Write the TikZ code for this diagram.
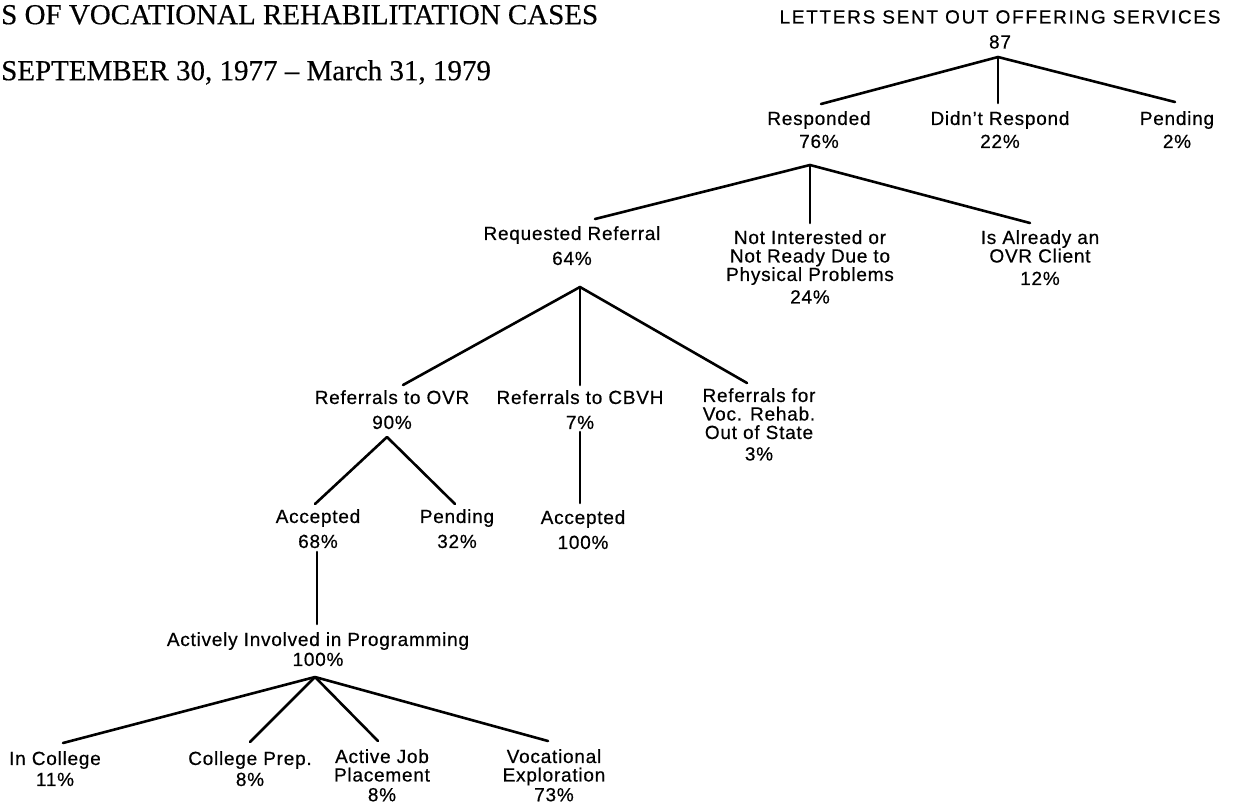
\documentclass[tikz,border=0pt]{standalone}
\usepackage{fontspec}
\setmainfont{Liberation Sans}[LetterSpace=4, FakeBold=0.5]
\newfontfamily\rootfont{Liberation Sans}[LetterSpace=9, FakeBold=0.5]
\newfontfamily\titlefont{Liberation Serif}[FakeBold=0.4]
\begin{document}
\begin{tikzpicture}[x=1pt,y=-1pt,
  lab/.style={align=center, inner sep=0pt, anchor=north, font=\fontsize{19}{18.5}\selectfont},
  link/.style={line width=2.6pt, line cap=round, line join=round}]
\useasboundingbox (0,0) rectangle (1235,807);
% title
\node[anchor=north west, inner sep=0pt, align=left, font=\titlefont\fontsize{29}{56}\selectfont] (title) at (1,4.8)
  {S OF VOCATIONAL REHABILITATION CASES\\SEPTEMBER 30, 1977 \textendash{} March 31, 1979};
% nodes
\node[lab] (root) at (1000,10) {{\rootfont LETTERS SENT OUT OFFERING SERVICES}\\[6.5pt]87};
\node[lab] (resp) at (819,111) {Responded\\[4.5pt]76\%};
\node[lab] (didnt) at (1000,111) {Didn't Respond\\[4.5pt]22\%};
\node[lab] (pend) at (1177,111) {Pending\\[4.5pt]2\%};
\node[lab] (req) at (572,226) {Requested Referral\\[6.5pt]64\%};
\node[lab] (notint) at (810,230) {Not Interested or\\Not Ready Due to\\Physical Problems\\[4pt]24\%};
\node[lab] (isalr) at (1040,230) {Is Already an\\OVR Client\\[4pt]12\%};
\node[lab] (ovr) at (392,390) {Referrals to OVR\\[6.5pt]90\%};
\node[lab] (cbvh) at (580,390) {Referrals to CBVH\\[6.5pt]7\%};
\node[lab] (voc) at (759,388) {Referrals for\\Voc. Rehab.\\Out of State\\[3pt]3\%};
\node[lab] (acc1) at (318,509) {Accepted\\[6.5pt]68\%};
\node[lab] (pend2) at (457,509) {Pending\\[6.5pt]32\%};
\node[lab] (acc2) at (583,510) {Accepted\\[6.5pt]100\%};
\node[lab] (active) at (318,632) {Actively Involved in Programming\\[1.5pt]100\%};
\node[lab] (incol) at (55,751) {In College\\[2.5pt]11\%};
\node[lab] (prep) at (250,751) {College Prep.\\[2.5pt]8\%};
\node[lab] (ajob) at (382,749) {Active Job\\Placement\\[1.3pt]8\%};
\node[lab] (vocex) at (554,749) {Vocational\\Exploration\\[1.3pt]73\%};
% junctions and ends
\coordinate (rootJ) at (998,57);
\coordinate (respE) at (821,104);
\coordinate (didntE) at (998,103);
\coordinate (pendE) at (1175,102);
\coordinate (respJ) at (810,165);
\coordinate (reqE) at (595,219);
\coordinate (notintE) at (810,223);
\coordinate (isalrE) at (1030,223);
\coordinate (reqJ) at (580,287);
\coordinate (ovrE) at (403,385);
\coordinate (cbvhE) at (580,385);
\coordinate (vocE) at (747,383);
\coordinate (ovrJ) at (387,437);
\coordinate (acc1E) at (315,504);
\coordinate (pend2E) at (455,504);
\coordinate (cbvhJ) at (580,432);
\coordinate (acc2E) at (580,503);
\coordinate (acc1J) at (317,552);
\coordinate (activeE) at (317,624);
\coordinate (actJ) at (315,677);
\coordinate (incolE) at (63,743);
\coordinate (prepE) at (250,742);
\coordinate (ajobE) at (378,741);
\coordinate (vocexE) at (548,741);
% connectors
\draw[link] (rootJ) -- (respE);
\draw[link] (rootJ) -- (didntE);
\draw[link] (rootJ) -- (pendE);
\draw[link] (respJ) -- (reqE);
\draw[link] (respJ) -- (notintE);
\draw[link] (respJ) -- (isalrE);
\draw[link] (reqJ) -- (ovrE);
\draw[link] (reqJ) -- (cbvhE);
\draw[link] (reqJ) -- (vocE);
\draw[link] (ovrJ) -- (acc1E);
\draw[link] (ovrJ) -- (pend2E);
\draw[link] (cbvhJ) -- (acc2E);
\draw[link] (acc1J) -- (activeE);
\draw[link] (actJ) -- (incolE);
\draw[link] (actJ) -- (prepE);
\draw[link] (actJ) -- (ajobE);
\draw[link] (actJ) -- (vocexE);
\end{tikzpicture}
\end{document}
